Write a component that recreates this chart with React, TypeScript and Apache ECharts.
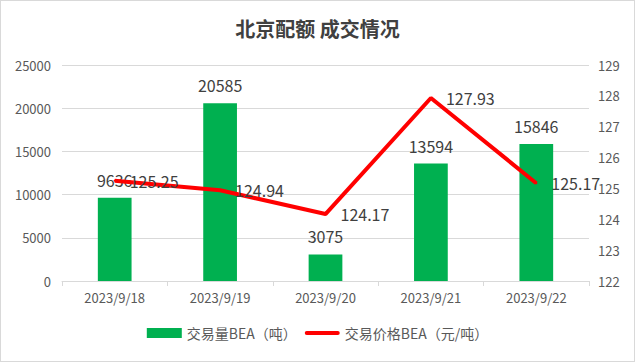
import React, { useEffect, useRef } from "react";
import * as echarts from "echarts";

const categories = ["2023/9/18", "2023/9/19", "2023/9/20", "2023/9/21", "2023/9/22"];
const volumeValues = [9636, 20585, 3075, 13594, 15846];
const priceValues = [125.25, 124.94, 124.17, 127.93, 125.17];
const volumeName = "交易量BEA（吨）";
const priceName = "交易价格BEA（元/吨）";
const titleText = "北京配额 成交情况";

export default function App() {
  const ref = useRef<HTMLDivElement>(null);
  useEffect(() => {
    document.body.style.margin = "0";
    const chart = echarts.init(ref.current!, null, { renderer: "svg" });
    const font = "'Noto Sans CJK SC', 'Liberation Sans', sans-serif";
    chart.setOption({
      animation: false,
      backgroundColor: "#fff",
      textStyle: { fontFamily: font },
      title: {
        text: titleText,
        left: "center",
        top: 12,
        textStyle: { fontSize: 20, fontWeight: "bold", color: "#404040", fontFamily: font },
      },
      legend: {
        bottom: 16,
        left: "center",
        itemGap: 8,
        itemWidth: 35,
        itemHeight: 10,
        textStyle: { fontSize: 14, color: "#595959", fontFamily: font },
        data: [
          { name: volumeName, icon: "rect" },
          { name: priceName, icon: "path://M2,0 L34,0 A2,2 0 0 1 34,4 L2,4 A2,2 0 0 1 2,0 Z" },
        ],
      },
      grid: { left: 61, right: 45, top: 64, bottom: 80 },
      xAxis: {
        type: "category",
        data: categories,
        axisLine: { lineStyle: { color: "#d9d9d9" } },
        axisTick: { show: true, length: 5, lineStyle: { color: "#d9d9d9" } },
        axisLabel: { color: "#595959", fontSize: 13, margin: 10 },
      },
      yAxis: [
        {
          type: "value",
          min: 0,
          max: 25000,
          interval: 5000,
          axisLine: { show: false },
          axisTick: { show: false },
          axisLabel: { color: "#595959", fontSize: 13, margin: 11, formatter: (v: number) => String(v) },
          splitLine: { lineStyle: { color: "#d9d9d9" } },
        },
        {
          type: "value",
          min: 122,
          max: 129,
          interval: 1,
          axisLine: { show: false },
          axisTick: { show: false },
          axisLabel: { color: "#595959", fontSize: 13, margin: 9, formatter: (v: number) => String(v) },
          splitLine: { show: false },
        },
      ],
      series: [
        {
          name: volumeName,
          type: "bar",
          data: volumeValues,
          barWidth: "32%",
          itemStyle: { color: "#00B050" },
          label: { show: true, position: "top", distance: 10, fontSize: 16, color: "#404040" },
        },
        {
          name: priceName,
          type: "line",
          yAxisIndex: 1,
          data: priceValues,
          symbol: "circle",
          symbolSize: 2,
          showSymbol: true,
          lineStyle: { color: "#FF0000", width: 4 },
          itemStyle: { color: "#FF0000" },
          label: { show: true, position: "right", distance: 14, fontSize: 16, color: "#404040" },
          z: 3,
        },
      ],
    });
    return () => chart.dispose();
  }, []);
  return (
    <div
      ref={ref}
      style={{ width: 635, height: 362, boxSizing: "border-box", border: "1px solid #d9d9d9" }}
    />
  );
}
